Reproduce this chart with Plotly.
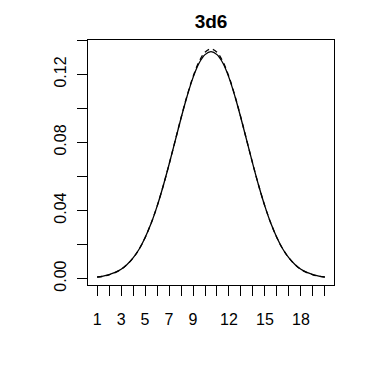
import plotly.graph_objects as go

# x positions (sum of 3d6)
x_vals = [1, 1.5, 2, 2.5, 3, 3.5, 4, 4.5, 5, 5.5, 6, 6.5, 7, 7.5, 8, 8.5, 9, 9.5, 10, 10.5,
          11, 11.5, 12, 12.5, 13, 13.5, 14, 14.5, 15, 15.5, 16, 16.5, 17, 17.5, 18, 18.5, 19, 19.5, 20]

# solid curve (density estimate)
solid_vals = [0.0009, 0.0014, 0.0023, 0.0036, 0.0055, 0.0083, 0.0121, 0.0172, 0.0240, 0.0323,
              0.0424, 0.0541, 0.0670, 0.0806, 0.0942, 0.1070, 0.1181, 0.1265, 0.1316, 0.1334,
              0.1316, 0.1265, 0.1181, 0.1070, 0.0942, 0.0806, 0.0670, 0.0541, 0.0424, 0.0323,
              0.0240, 0.0172, 0.0121, 0.0083, 0.0055, 0.0036, 0.0023, 0.0014, 0.0009]

# dashed curve (normal approximation)
dashed_vals = [0.0008, 0.0013, 0.0022, 0.0035, 0.0054, 0.0082, 0.0121, 0.0172, 0.0240, 0.0324,
               0.0424, 0.0541, 0.0670, 0.0807, 0.0944, 0.1073, 0.1186, 0.1274, 0.1330, 0.1349,
               0.1330, 0.1274, 0.1186, 0.1073, 0.0944, 0.0807, 0.0670, 0.0541, 0.0424, 0.0324,
               0.0240, 0.0172, 0.0121, 0.0082, 0.0054, 0.0035, 0.0022, 0.0013, 0.0008]

x_ticks = list(range(1, 21))
x_tick_text = ["1", "", "3", "", "5", "", "7", "", "9", "", "", "12", "", "", "15", "", "", "18", "", ""]
y_ticks = [0.00, 0.02, 0.04, 0.06, 0.08, 0.10, 0.12, 0.14]
y_tick_text = ["0.00", "", "0.04", "", "0.08", "", "0.12", ""]

fig = go.Figure()
fig.add_trace(go.Scatter(x=x_vals, y=dashed_vals, mode="lines", line_shape="spline",
                         line=dict(color="black", width=1.3, dash="5px,4px"), showlegend=False))
fig.add_trace(go.Scatter(x=x_vals, y=solid_vals, mode="lines", line_shape="spline",
                         line=dict(color="black", width=1.3), showlegend=False))

axis_font = dict(family="Liberation Sans, Arial, sans-serif", size=16, color="black")
fig.update_layout(
    width=384, height=384,
    margin=dict(l=88, r=50, t=40, b=99),
    paper_bgcolor="white", plot_bgcolor="white",
    title=dict(text="<b>3d6</b>", x=(88 + 334) / 2 / 384, xanchor="center", y=1 - 21 / 384, yanchor="middle",
               font=dict(family="Liberation Sans, Arial, sans-serif", size=19, color="black")),
    xaxis=dict(range=[0.24, 20.76], tickvals=x_ticks, ticktext=x_tick_text,
               showline=True, mirror=True, linecolor="black", linewidth=1.3,
               ticks="outside", ticklen=10, tickwidth=1.3, tickcolor="black",
               showgrid=False, zeroline=False, tickfont=axis_font, ticklabelstandoff=10),
    yaxis=dict(range=[-0.0038, 0.1402], tickvals=y_ticks, ticktext=y_tick_text,
               showline=True, mirror=True, linecolor="black", linewidth=1.3,
               ticks="outside", ticklen=10, tickwidth=1.3, tickcolor="black", tickangle=-90,
               showgrid=False, zeroline=False, tickfont=axis_font, ticklabelstandoff=4),
)

fig.write_html("out.html")
